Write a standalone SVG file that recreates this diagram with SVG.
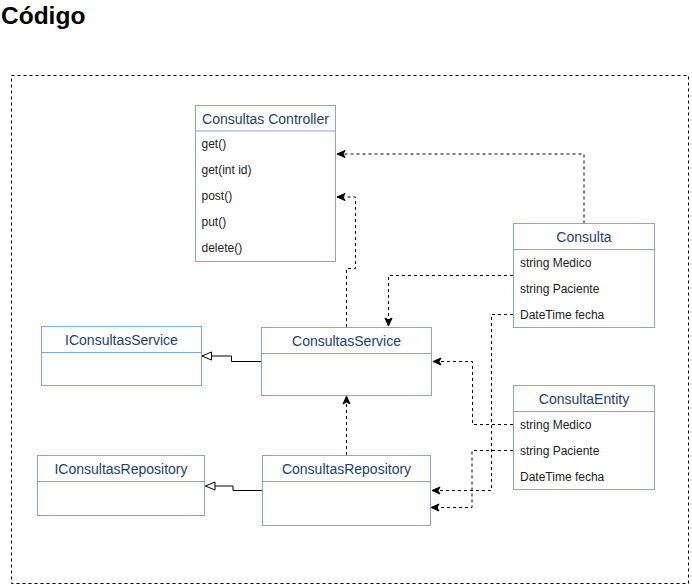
<svg xmlns="http://www.w3.org/2000/svg" width="692" height="587" viewBox="0 0 692 587">
<defs>
<style>
.box{fill:#fff;stroke:#7EA6E0;stroke-width:1}
.sep{stroke:#7EA6E0;stroke-width:1}
.hdr{font-family:"Liberation Sans",Arial,sans-serif;font-size:14px;fill:#1c416e;text-anchor:middle}
.itm{font-family:"Liberation Sans",Arial,sans-serif;font-size:12px;fill:#222}
.dep{fill:none;stroke:#000;stroke-width:1;stroke-dasharray:3 3}
.gen{fill:none;stroke:#000;stroke-width:1}
</style>
<marker id="arr" markerUnits="userSpaceOnUse" markerWidth="10" markerHeight="10" viewBox="0 0 10 10" refX="9" refY="5" orient="auto">
<path d="M1,1.5 L9,5 L1,8.5 L3,5 z" fill="#000" stroke="#000" stroke-width="1"/>
</marker>
<marker id="tri" markerUnits="userSpaceOnUse" markerWidth="12" markerHeight="12" viewBox="0 0 12 12" refX="10.5" refY="6" orient="auto">
<path d="M1,2 L10.5,6 L1,10 z" fill="#fff" stroke="#000" stroke-width="1"/>
</marker>
</defs>
<rect width="692" height="587" fill="#fff"/>
<text x="1" y="24" font-family="'Liberation Sans',Arial,sans-serif" font-size="24.5" font-weight="bold" fill="#000">Código</text>
<rect x="11.5" y="75.5" width="677" height="508" fill="none" stroke="#000" stroke-dasharray="3 3"/>

<g id="connectors">
<path class="dep" d="M584,223.5 V154 H337" marker-end="url(#arr)"/>
<path class="dep" d="M346.5,327 V268.5 H355.5 V197 H337" marker-end="url(#arr)"/>
<path class="dep" d="M513,275.5 H388.5 V326" marker-end="url(#arr)"/>
<path class="dep" d="M513,314.5 H491.5 V490.5 H432" marker-end="url(#arr)"/>
<path class="dep" d="M513,424.5 H472.5 V361.5 H433" marker-end="url(#arr)"/>
<path class="dep" d="M513,450.5 H472 V507.5 H431" marker-end="url(#arr)"/>
<path class="dep" d="M346.5,455 V396" marker-end="url(#arr)"/>
<path class="gen" d="M261,361.5 H231.5 V356 H202" marker-end="url(#tri)"/>
<path class="gen" d="M262,490.5 H233 V486 H205.5" marker-end="url(#tri)"/>
</g>

<g id="consultas-controller">
<rect class="box" x="195.5" y="105.5" width="140" height="156"/>
<line class="sep" x1="195.5" y1="131" x2="335.5" y2="131"/>
<text class="hdr" x="265.5" y="124">Consultas Controller</text>
<text class="itm" x="201.5" y="148">get()</text>
<text class="itm" x="201.5" y="174">get(int id)</text>
<text class="itm" x="201.5" y="200">post()</text>
<text class="itm" x="201.5" y="226">put()</text>
<text class="itm" x="201.5" y="252">delete()</text>
</g>

<g id="consulta">
<rect class="box" x="513.5" y="223.5" width="141" height="104"/>
<line class="sep" x1="513.5" y1="249.5" x2="654.5" y2="249.5"/>
<text class="hdr" x="584" y="242">Consulta</text>
<text class="itm" x="520" y="267">string Medico</text>
<text class="itm" x="520" y="293">string Paciente</text>
<text class="itm" x="520" y="319">DateTime fecha</text>
</g>

<g id="consulta-entity">
<rect class="box" x="513.5" y="385.5" width="141" height="104"/>
<line class="sep" x1="513.5" y1="411.5" x2="654.5" y2="411.5"/>
<text class="hdr" x="584" y="404">ConsultaEntity</text>
<text class="itm" x="520" y="429">string Medico</text>
<text class="itm" x="520" y="455">string Paciente</text>
<text class="itm" x="520" y="481">DateTime fecha</text>
</g>

<g id="iconsultas-service">
<rect class="box" x="41.5" y="326.5" width="160" height="59"/>
<line class="sep" x1="41.5" y1="352.5" x2="201.5" y2="352.5"/>
<text class="hdr" x="121.5" y="345">IConsultasService</text>
</g>

<g id="consultas-service">
<rect class="box" x="261.5" y="327.5" width="170" height="68"/>
<line class="sep" x1="261.5" y1="353.5" x2="431.5" y2="353.5"/>
<text class="hdr" x="346.5" y="346">ConsultasService</text>
</g>

<g id="iconsultas-repository">
<rect class="box" x="37.5" y="455.5" width="167" height="60"/>
<line class="sep" x1="37.5" y1="481.5" x2="204.5" y2="481.5"/>
<text class="hdr" x="121" y="474">IConsultasRepository</text>
</g>

<g id="consultas-repository">
<rect class="box" x="262.5" y="455.5" width="168" height="70"/>
<line class="sep" x1="262.5" y1="481.5" x2="430.5" y2="481.5"/>
<text class="hdr" x="346.5" y="474">ConsultasRepository</text>
</g>
</svg>
